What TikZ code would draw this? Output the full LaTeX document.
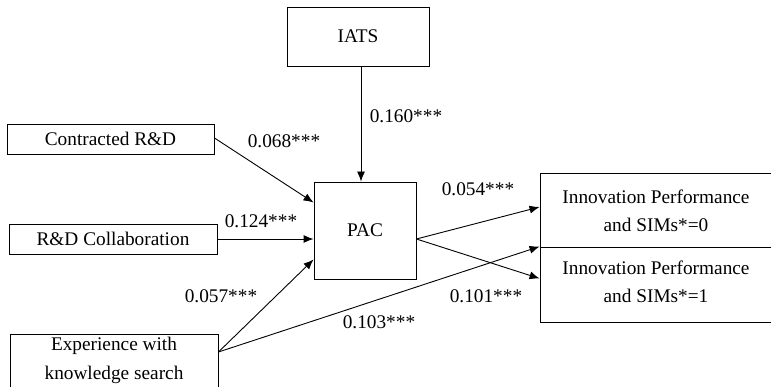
\documentclass[tikz,border=0pt]{standalone}
\usepackage{fontspec}
\setmainfont{Liberation Serif}
\usetikzlibrary{arrows.meta}
\begin{document}
\begin{tikzpicture}[x=1pt,y=-1pt,
  box/.style={draw,line width=0.9pt,inner sep=0pt,align=center},
  lbl/.style={inner sep=0pt},
  conn/.style={line width=0.9pt,-{Latex[length=10pt,width=8pt]}},
  every node/.style={font=\fontsize{19.3}{28.5}\selectfont}]
\useasboundingbox (0,0) rectangle (771,387);
\clip (0,0) rectangle (771,387);

% variable boxes
\node[box,minimum width=142,minimum height=59] (iats) at (358,36.5) {IATS};
\node[box,minimum width=207,minimum height=30] (cr) at (110.5,139) {Contracted R\&D};
\node[box,minimum width=208,minimum height=30] (rdc) at (113,239) {R\&D Collaboration};
\node[box,minimum width=208,minimum height=66] (exp) at (114,367) {};
\node[lbl,align=center] (expt) at (114,360.5) {Experience with\\knowledge search};
\node[box,minimum width=102,minimum height=97] (pac) at (365,230.5) {PAC};
\node[box,minimum width=240,minimum height=74] (ip0) at (660,210) {};
\node[lbl,align=center] (ip0t) at (656,211) {Innovation Performance\\and SIMs*=0};
\node[box,minimum width=240,minimum height=75] (ip1) at (660,284.5) {};
\node[lbl,align=center] (ip1t) at (656,282) {Innovation Performance\\and SIMs*=1};

% paths
\draw[conn] ([xshift=3]iats.south) -- ([xshift=3]iats.south |- pac.north);
\draw[conn] ([yshift=1]cr.east) -- ([yshift=28]pac.west);
\draw[conn] (rdc.east) -- (rdc.east -| pac.west);
\draw[conn] ([yshift=15]exp.east) -- ([yshift=-29]pac.west);
\draw[conn] ([yshift=15]exp.east) -- (ip1.north west);
\draw[conn] ([yshift=-8.5]pac.east) -- ([yshift=3]ip0.west);
\draw[conn] ([yshift=-8.5]pac.east) -- ([yshift=6]ip1.west);

% path coefficients
\node[lbl] (c1) at (406,116) {0.160***};
\node[lbl] (c2) at (284,141) {0.068***};
\node[lbl] (c3) at (261,221) {0.124***};
\node[lbl] (c4) at (221,296) {0.057***};
\node[lbl] (c5) at (379,322) {0.103***};
\node[lbl] (c6) at (478,189) {0.054***};
\node[lbl] (c7) at (486,296) {0.101***};
\end{tikzpicture}
\end{document}
